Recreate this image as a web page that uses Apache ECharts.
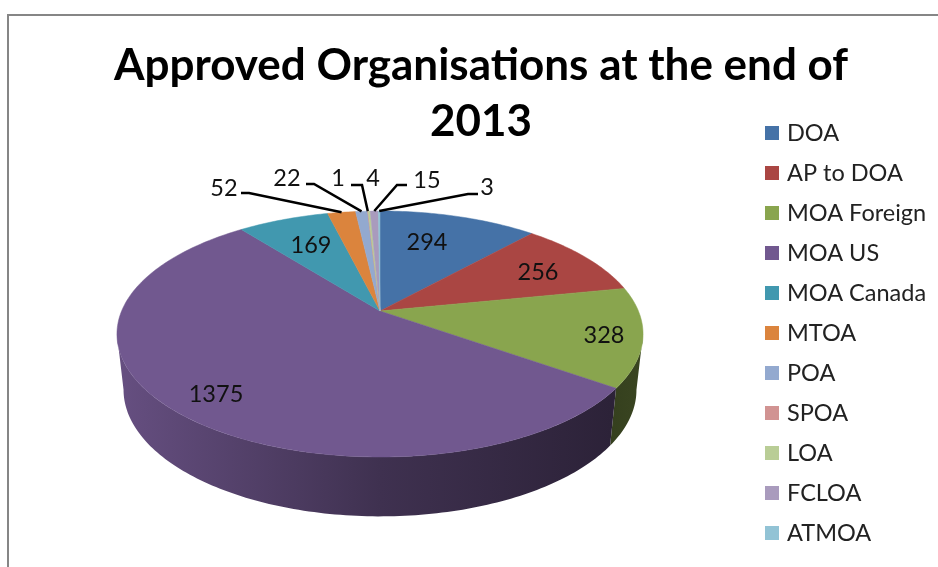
<!DOCTYPE html>
<html>
<head>
<meta charset="utf-8">
<style>html,body{margin:0;padding:0;background:#fff}#chart{width:938px;height:567px}</style>
<script src="https://cdn.jsdelivr.net/npm/echarts@6/dist/echarts.min.js"></script>
</head>
<body>
<div id="chart"></div>
<script>
const categories = ['DOA','AP to DOA','MOA Foreign','MOA US','MOA Canada','MTOA','POA','SPOA','LOA','FCLOA','ATMOA'];
const values = [294,256,328,1375,169,52,22,1,4,15,3];
const palette = ['#4572A7','#AA4643','#89A54E','#71588F','#4198AF','#DB843D','#93A9CF','#D19392','#B9CD96','#A99BBD','#92C3D5'];
// label text anchors, one per slice, in category order
const labelAnchors = [[427,242],[538,272],[604,335],[216,394],[311,245],[224,188],[287,178],[338,178],[373,178],[427,180],[487,187]];
// leader-line elbows (start, bend); null = no leader
const leaderElbows = [null,null,null,null,null,[[241,193],[249,193]],[[306,184],[314,184]],[[351,185],[362,185]],null,[[407,185],[397,185]],[[478,194],[468,194]]];

const FONT = 'Lato';
// perspective projection of the pie disc
const CX = 380, CY = 311, R = 258.4, A = 118.7, K = 0.187;
const DEPTH = 55, SX = 0.975, SY = 1.03;
const FRONT_START = Math.acos(-K), FRONT_END = 2*Math.PI - FRONT_START;
const total = values.reduce((a,b)=>a+b,0);
function rim(theta){
  const X = Math.sin(theta), Y = Math.cos(theta), w = 1 + K*Y;
  return [CX + R*X/w, CY - A*Y/w];
}
function lowerRim(p){ return [CX + (p[0]-CX)*SX, CY + (p[1]-CY)*SY + DEPTH]; }
function arc(t0,t1){
  const n = Math.max(2, Math.ceil((t1-t0)/(Math.PI/180))), pts=[];
  for(let i=0;i<=n;i++) pts.push(rim(t0+(t1-t0)*i/n));
  return pts;
}
function shade(hex,f){
  const n = parseInt(hex.slice(1),16);
  const c = [n>>16&255,n>>8&255,n&255].map(v=>Math.round(v*f));
  return 'rgb('+c.join(',')+')';
}
function renderSlice(i){
  return function(params, api){
    const t0 = api.value(0)/total*2*Math.PI, t1 = api.value(1)/total*2*Math.PI;
    const top = arc(t0,t1);
    const base = palette[i];
    const children = [];
    const s0 = Math.max(t0,FRONT_START), s1 = Math.min(t1,FRONT_END);
    if(s1 > s0){
      const upper = arc(s0,s1);
      children.push({type:'polygon', z2:1, silent:true,
        shape:{points:upper.concat(upper.map(lowerRim).reverse())},
        style:{fill:{type:'linear',x:117,y:0,x2:643,y2:0,global:true,colorStops:[
          {offset:0,color:shade(base,.90)},{offset:.5,color:shade(base,.56)},
          {offset:.94,color:shade(base,.39)},{offset:1,color:shade(base,.42)}]}}});
    }
    children.push(
      {type:'polygon', z2:10, shape:{points:[[CX,CY]].concat(top)}, silent:true,
       style:{fill:base, stroke:base, lineWidth:.5}},
      {type:'text', z2:30, silent:true, style:{x:labelAnchors[i][0], y:labelAnchors[i][1],
        text:String(values[i]), fill:'#111', font:'23.5px '+FONT, align:'center', verticalAlign:'middle'}}
    );
    if(leaderElbows[i]){
      const end = rim((t0+t1)/2);
      children.push({type:'polyline', z2:20, silent:true,
        shape:{points:leaderElbows[i].concat([end])}, style:{stroke:'#000',lineWidth:2.5,fill:null}});
    }
    return {type:'group', children};
  };
}
let cum = 0;
const series = categories.map((name,i)=>{
  const start = cum; cum += values[i];
  return {type:'custom', name, coordinateSystem:'none', renderItem:renderSlice(i), clip:false,
    data:[[start,cum,values[i]]], itemStyle:{color:palette[i]}, animation:false, silent:true,
    emphasis:{disabled:true}};
});
const chart = echarts.init(document.getElementById('chart'),null,{renderer:'canvas'});
chart.setOption({
  backgroundColor:'#fff',
  animation:false,
  title:{text:'Approved Organisations at the end of\n2013', left:476, top:33, textAlign:'center',
    textStyle:{fontFamily:FONT,fontWeight:'bold',fontSize:44,lineHeight:56,color:'#000'}},
  legend:{orient:'vertical', left:760, top:116, height:445, icon:'rect', itemWidth:14, itemHeight:14, itemGap:16,
    selectedMode:false, data:categories,
    textStyle:{fontFamily:FONT,fontSize:23.5,color:'#222',lineHeight:22,padding:[0,0,0,3]}},
  graphic:[{type:'rect',silent:true,shape:{x:8,y:15,width:1100,height:1100},style:{fill:'none',stroke:'#868686',lineWidth:2}}],
  series
});
</script>
</body>
</html>
